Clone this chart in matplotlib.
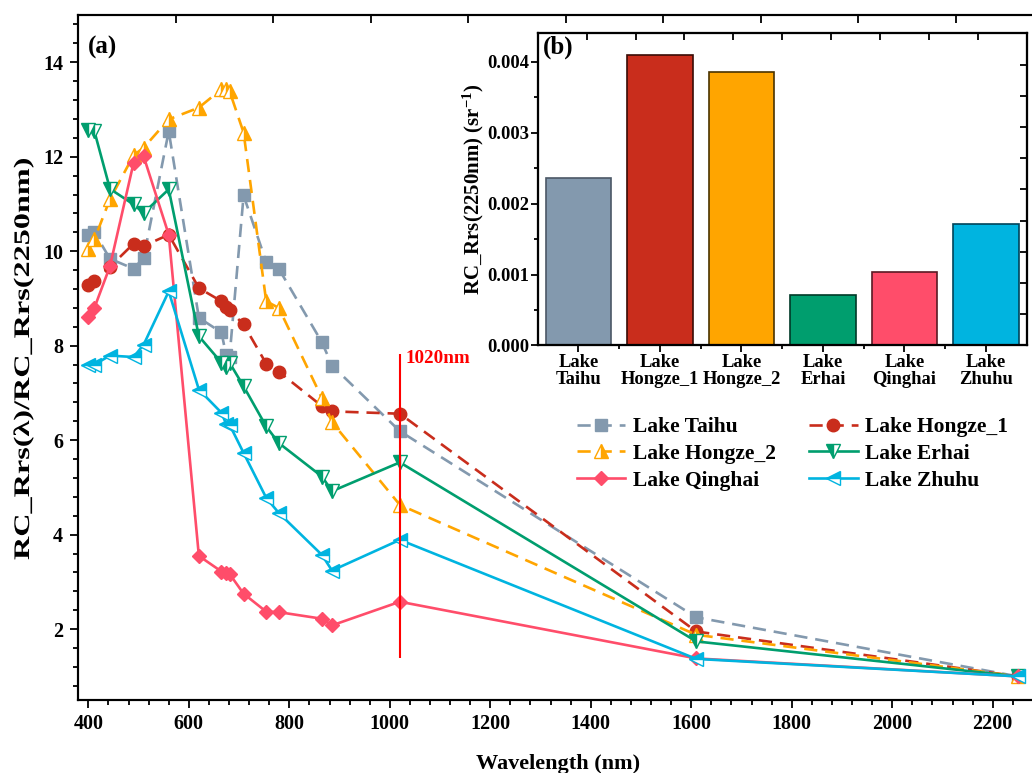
import matplotlib
matplotlib.use("Agg")
import matplotlib.pyplot as plt
from matplotlib.ticker import MultipleLocator, FixedLocator, FormatStrFormatter
from matplotlib.patheffects import AbstractPathEffect
from matplotlib.transforms import Affine2D
import numpy as np

plt.rcParams['font.family'] = ['Liberation Serif', 'DejaVu Serif']
plt.rcParams['font.weight'] = 'bold'
plt.rcParams['mathtext.default'] = 'regular'
plt.rcParams['axes.linewidth'] = 1.5

# ---------------- data ----------------
wavelength = [400, 412, 443, 490, 510, 560, 620, 665, 674, 681, 709,
              754, 779, 865, 885, 1020, 1610, 2250]

taihu = [10.35, 10.40, 9.84, 9.63, 9.86, 12.54, 8.59, 8.28, 7.81, 7.76, 11.18,
         9.77, 9.63, 8.07, 7.58, 6.19, 2.25, 1.00]
hongze_1 = [9.29, 9.36, 9.67, 10.16, 10.11, 10.35, 9.22, 8.94, 8.82, 8.75, 8.45,
            7.62, 7.45, 6.72, 6.61, 6.56, 1.95, 1.00]
hongze_2 = [10.04, 10.25, 11.10, 12.03, 12.19, 12.79, 13.04, 13.43, 13.43, 13.39, 12.51,
            8.94, 8.80, 6.89, 6.38, 4.63, 1.88, 1.00]
erhai = [12.56, 12.54, 11.32, 10.99, 10.81, 11.31, 8.20, 7.64, 7.55, 7.64, 7.14,
         6.29, 5.94, 5.23, 4.92, 5.53, 1.74, 1.00]
qinghai = [8.60, 8.80, 9.68, 11.87, 12.01, 10.35, 3.55, 3.22, 3.18, 3.17, 2.75,
           2.37, 2.36, 2.22, 2.08, 2.58, 1.38, 1.00]
zhuhu = [7.60, 7.60, 7.79, 7.76, 8.02, 9.15, 7.07, 6.58, 6.35, 6.33, 5.73,
         4.78, 4.46, 3.57, 3.24, 3.89, 1.37, 1.00]

lake_names = ['Lake Taihu', 'Lake Hongze_1', 'Lake Hongze_2',
              'Lake Erhai', 'Lake Qinghai', 'Lake Zhuhu']
bar_labels = ['Lake\nTaihu', 'Lake\nHongze_1', 'Lake\nHongze_2',
              'Lake\nErhai', 'Lake\nQinghai', 'Lake\nZhuhu']
rrs_2250 = [0.00236, 0.00410, 0.00385, 0.00071, 0.00104, 0.00171]

marker_line = 1020
marker_line_span = (1.39, 7.83)


class StretchAlong(AbstractPathEffect):
    """Draw text glyphs widened along the writing direction."""

    def __init__(self, factor):
        super().__init__()
        self.factor = factor

    def draw_path(self, renderer, gc, tpath, affine, rgbFace=None):
        renderer.draw_path(gc, tpath, Affine2D().scale(self.factor, 1.0) + affine,
                           rgbFace)


# ---------------- styles ----------------
colors = ['#8399AE', '#C92D1C', '#FFA500', '#009E6E', '#FF4D6A', '#00B4E0']
edge_colors = ['#4C5866', '#3A0C06', '#4A3300', '#003A28', '#5A1A24', '#00445A']
dash = (0, (5, 3))
styles = [
    dict(marker='s', ls=dash, ms=8.5),
    dict(marker='o', ls=dash, ms=9),
    dict(marker='^', ls=dash, ms=10, fillstyle='right', markerfacecoloralt='white'),
    dict(marker='v', ls='-', ms=10, fillstyle='left', markerfacecoloralt='white'),
    dict(marker='D', ls='-', ms=7.5),
    dict(marker='<', ls='-', ms=10, fillstyle='top', markerfacecoloralt='white'),
]
series = [taihu, hongze_1, hongze_2, erhai, qinghai, zhuhu]

W, H = 1032, 773
fig = plt.figure(figsize=(W / 100, H / 100), dpi=100)

# main axes (right part runs past the canvas edge)
ax = fig.add_axes([78.3 / W, 1 - 700 / H, (1053 - 78.3) / W, 685 / H])
handles = []
for vals, c, st, name in zip(series, colors, styles, lake_names):
    h, = ax.plot(wavelength, vals, color=c, lw=1.9, label=name,
                 markeredgecolor=c, markerfacecolor=c, markeredgewidth=1.0, **st)
    handles.append(h)

ax.vlines(marker_line, *marker_line_span, color='#FF0000', lw=1.5, zorder=10)
ax.text(1032, 7.72, '1020nm', color='#FF0000', fontsize=13.7, fontweight='bold',
        ha='left', va='center')

ax.set_xlim(380, 2320)
ax.set_ylim(0.5, 15)
ax.xaxis.set_major_locator(MultipleLocator(200))
ax.xaxis.set_minor_locator(MultipleLocator(40))
ax.yaxis.set_major_locator(MultipleLocator(2))
ax.yaxis.set_minor_locator(MultipleLocator(0.4))
ax.tick_params(which='both', direction='out', top=False, right=False,
               labelsize=14.5, width=1.3)
ax.tick_params(which='major', length=6)
ax.tick_params(which='minor', length=3.6)
ax.tick_params(axis='x', pad=4)
ax.tick_params(axis='y', pad=5)
ax.set_xlabel('Wavelength (nm)', fontsize=16, fontweight='bold')
ax.xaxis.set_label_coords((558 - 78.3) / (1053 - 78.3), (700 - 754) / 685)

# y label: starts near the bottom and is widened along its length
ax.set_ylabel('RC_Rrs(λ)/RC_Rrs(2250nm)', fontsize=16, fontweight='bold',
              rotation=90, rotation_mode='anchor', ha='left', va='baseline',
              path_effects=[StretchAlong(1.45)])
ax.yaxis.set_label_coords((29 - 78.3) / (1053 - 78.3), (700 - 560) / 685)

ax.text(0.01, 0.953, '(a)', transform=ax.transAxes, fontsize=18,
        fontweight='bold', ha='left', va='center')

# plain tick divisions along the top spine
ax_top = ax.twiny()
ax_top.set_xlim(0, 10)
ax_top.xaxis.set_major_locator(FixedLocator(np.arange(1, 10)))
ax_top.tick_params(axis='x', direction='in', length=6, width=1.3, labeltop=False)
ax_top.patch.set_visible(False)

# legend filled row by row (3 rows x 2 columns)
order = [0, 2, 4, 1, 3, 5]
ax.legend([handles[i] for i in order], [lake_names[i] for i in order],
          loc='upper left', bbox_to_anchor=(577 / W, 1 - 417 / H),
          bbox_transform=fig.transFigure, ncol=2, frameon=False,
          prop=dict(family='Liberation Serif', weight='bold', size=15.5),
          handlelength=2.25, handletextpad=0.35, columnspacing=1.55,
          labelspacing=0.31, borderpad=0, borderaxespad=0)

# inset bar chart
axb = fig.add_axes([537.7 / W, 1 - 345.5 / H, 489 / W, 312.2 / H])
x = np.arange(len(rrs_2250))
axb.bar(x, rrs_2250, width=0.8, color=colors, edgecolor=edge_colors, linewidth=1.2)
axb.set_xlim(-0.5, 5.5)
axb.set_ylim(0, 0.0044)
axb.set_xticks(x)
axb.set_xticklabels(bar_labels, fontsize=12.5, fontweight='bold', linespacing=1.0)
axb.xaxis.set_minor_locator(FixedLocator(x[:-1] + 0.5))
axb.yaxis.set_major_locator(MultipleLocator(0.001))
axb.yaxis.set_minor_locator(MultipleLocator(0.0005))
axb.yaxis.set_major_formatter(FormatStrFormatter('%.3f'))
axb.tick_params(which='both', direction='out', width=1.3, labelsize=13.3, pad=1)
axb.tick_params(which='major', length=5)
axb.tick_params(which='minor', length=3)
axb.set_ylabel('RC_Rrs(2250nm) (sr$^{-1}$)', fontsize=15, fontweight='bold')
axb.yaxis.set_label_coords((486 - 537.7) / 489, 0.5)
axb.text(0.011, 0.956, '(b)', transform=axb.transAxes, fontsize=18,
         fontweight='bold', ha='left', va='center')

axb_top = axb.twiny()
axb_top.set_xlim(0, 10)
axb_top.xaxis.set_major_locator(FixedLocator(np.arange(1, 10)))
axb_top.tick_params(axis='x', direction='in', length=5, width=1.3, labeltop=False)
axb_right = axb.twinx()
axb_right.set_ylim(0, 10)
axb_right.yaxis.set_major_locator(FixedLocator(np.arange(1, 10)))
axb_right.tick_params(axis='y', direction='in', length=5, width=1.3, labelright=False)
axb_top.patch.set_visible(False)
axb_right.patch.set_visible(False)

fig.savefig('out.png', dpi=100)
